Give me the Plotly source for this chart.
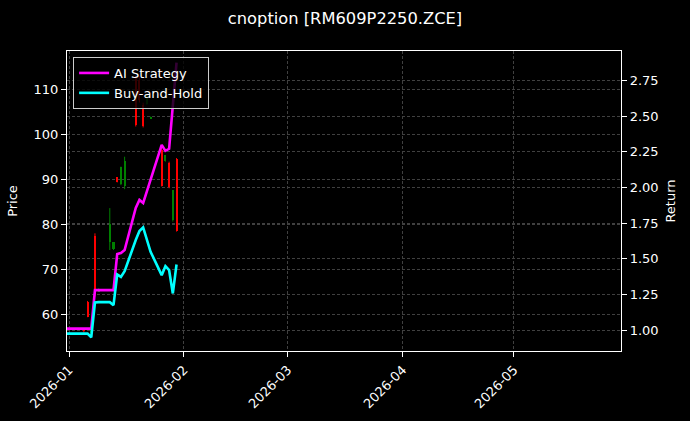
import plotly.graph_objects as go

# trading days shown on the chart
dates = ["2025-12-31", "2026-01-05", "2026-01-06", "2026-01-07", "2026-01-08",
         "2026-01-09", "2026-01-12", "2026-01-13", "2026-01-14", "2026-01-15",
         "2026-01-16", "2026-01-19", "2026-01-20", "2026-01-21", "2026-01-22",
         "2026-01-23", "2026-01-26", "2026-01-27", "2026-01-28", "2026-01-29",
         "2026-01-30"]

# option prices (read from the candles, approximate)
open_ = [56.0, 56.5, 59.5, 57.0, 64.5, 65.6, 80.0, 76.0, 89.3, 92.8, 94.0,
         102.0, 107.5, 101.8, 109.0, 103.8, 88.5, 95.4, 88.2, 87.6, 78.5]
high = [57.0, 57.0, 63.0, 57.5, 78.0, 65.8, 83.6, 76.0, 90.4, 92.8, 95.0,
        113.0, 113.0, 107.0, 109.0, 103.9, 96.9, 95.4, 93.9, 87.6, 94.7]
low = [55.5, 56.0, 59.4, 55.5, 64.0, 65.0, 74.3, 74.3, 89.3, 88.7, 87.8,
       101.7, 107.0, 101.5, 106.5, 103.4, 88.4, 93.9, 88.0, 80.6, 78.4]
close = [56.5, 56.8, 62.8, 55.8, 77.5, 65.2, 76.0, 74.5, 90.4, 89.0, 88.5,
         112.5, 112.0, 106.5, 106.7, 103.5, 96.5, 94.0, 93.5, 81.0, 94.5]

# cumulative returns
ai_return = [1.012, 1.012, 1.012, 1.012, 1.281, 1.281, 1.281, 1.281, 1.534,
             1.541, 1.562, 1.857, 1.913, 1.892, 1.973, 2.053, 2.299, 2.257,
             2.271, 2.573, 2.875]
bh_return = [0.977, 0.977, 0.977, 0.951, 1.195, 1.197, 1.197, 1.176, 1.391,
             1.374, 1.414, 1.632, 1.695, 1.721, 1.632, 1.550, 1.386, 1.449,
             1.421, 1.258, 1.461]

month_ticks = ["2026-01-01", "2026-02-01", "2026-03-01", "2026-04-01", "2026-05-01"]

UP, DOWN = "#ff0000", "#008000"
DAY_MS = 24 * 3600 * 1000

# candle bodies as bars, wicks as line segments
is_up = [c >= o for o, c in zip(open_, close)]
body_base = [min(o, c) for o, c in zip(open_, close)]
body_len = [max(abs(c - o), 0.25) for o, c in zip(open_, close)]
body_col = [UP if u else DOWN for u in is_up]

fig = go.Figure()

fig.add_trace(go.Bar(
    x=dates, y=body_len, base=body_base, width=0.55 * DAY_MS,
    marker=dict(color=body_col, line=dict(width=0)),
    showlegend=False, hoverinfo="skip", yaxis="y"
))

for want_up, col in [(True, UP), (False, DOWN)]:
    wx, wy = [], []
    for d, lo, hi, u in zip(dates, low, high, is_up):
        if u == want_up:
            wx += [d, d, None]
            wy += [lo, hi, None]
    fig.add_trace(go.Scatter(
        x=wx, y=wy, mode="lines", line=dict(color=col, width=1),
        showlegend=False, hoverinfo="skip", yaxis="y"
    ))

fig.add_trace(go.Scatter(
    x=dates, y=ai_return, mode="lines", name="AI Strategy",
    line=dict(color="#ff00ff", width=2.6), yaxis="y2"
))
fig.add_trace(go.Scatter(
    x=dates, y=bh_return, mode="lines", name="Buy-and-Hold",
    line=dict(color="#00ffff", width=2.6), yaxis="y2"
))

axis_common = dict(
    showline=True, linecolor="white", linewidth=1.2,
    ticks="outside", tickcolor="white", ticklen=5, tickwidth=1,
    tickfont=dict(color="white", size=13),
    showgrid=True, gridcolor="#404040", gridwidth=0.5, griddash="3px,2px",
    zeroline=False, automargin=False,
)

fig.update_layout(
    width=690, height=421,
    paper_bgcolor="#000000", plot_bgcolor="#000000",
    font=dict(family="DejaVu Sans", color="white", size=13),
    margin=dict(l=67, r=69, t=51, b=70),
    bargap=0,
    title=dict(text="cnoption [RM609P2250.ZCE]", x=0.5, xanchor="center",
               y=0.957, yanchor="middle", yref="container",
               font=dict(size=16.3, color="white")),
    xaxis=dict(
        **axis_common, mirror=True, type="date",
        range=["2025-12-31 11:00", "2026-05-29 21:00"],
        tickvals=month_ticks, tickformat="%Y-%m", tickangle=-45,
    ),
    yaxis=dict(
        **axis_common, mirror=True, range=[51.9, 118.45], dtick=10,
        title=dict(text="Price", font=dict(size=13, color="white"), standoff=12),
    ),
    yaxis2=dict(
        **axis_common, overlaying="y", side="right", range=[0.855, 2.956],
        dtick=0.25, tickformat=".2f",
        title=dict(text="Return", font=dict(size=13, color="white"), standoff=8),
    ),
    legend=dict(
        x=0.011, y=0.98, xanchor="left", yanchor="top",
        bgcolor="rgba(0,0,0,0.8)", bordercolor="#cccccc", borderwidth=1,
        font=dict(size=13, color="white"), tracegroupgap=2,
    ),
)

# drop the page's default white body margin
page_js = "document.body.style.margin='0';document.body.style.background='#000';"
fig.write_html("out.html", post_script=page_js, config={"displayModeBar": False})
